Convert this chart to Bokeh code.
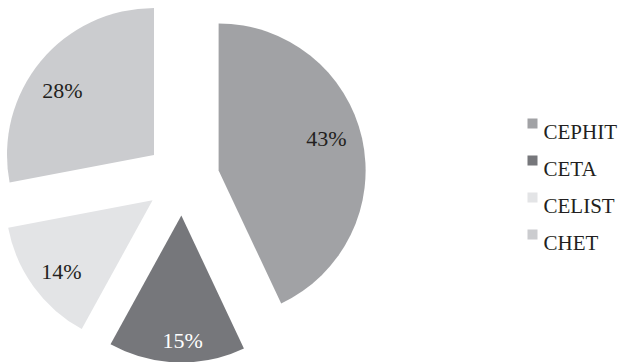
import math
from bokeh.plotting import figure
from bokeh.models import Range1d, ColumnDataSource
from bokeh.core.properties import value
from bokeh.embed import file_html
from bokeh.resources import INLINE

# ---- data ----
categories = ["CEPHIT", "CETA", "CELIST", "CHET"]
shares = [43, 15, 14, 28]
colors = ["#a1a2a5", "#76777b", "#e3e4e6", "#cbcccf"]
label_colors = ["#231f20", "#ffffff", "#231f20", "#231f20"]

# ---- layout / style ----
W, H = 618, 362
CX, CY = 182, 184
R = 147
EXPLODE = 37
LABEL_FRAC = [0.765, 0.85, 0.786, 0.761]   # label distance / radius
LABEL_DEG = [-3.9, -2.4, -2.0, -4.5]       # clockwise shift from bisector
FONT = value("Liberation Serif")

p = figure(width=W, height=H, x_range=Range1d(0, W), y_range=Range1d(0, H),
           output_backend="svg", toolbar_location=None, min_border=0)
p.axis.visible = False
p.grid.visible = False
p.outline_line_color = None
p.background_fill_color = "white"
p.border_fill_color = "white"

total = sum(shares)
cum = 0
xs, ys, starts, ends, lxs, lys, texts = [], [], [], [], [], [], []
for v, f, d in zip(shares, LABEL_FRAC, LABEL_DEG):
    a0 = math.pi / 2 - 2 * math.pi * cum / total
    cum += v
    a1 = math.pi / 2 - 2 * math.pi * cum / total
    mid = (a0 + a1) / 2
    x = CX + EXPLODE * math.cos(mid)
    y = CY + EXPLODE * math.sin(mid)
    xs.append(x); ys.append(y); starts.append(a0); ends.append(a1)
    la = mid - math.radians(d)
    lxs.append(x + f * R * math.cos(la))
    lys.append(y + f * R * math.sin(la))
    texts.append(f"{v}%")

src = ColumnDataSource(dict(x=xs, y=ys, start=starts, end=ends, color=colors,
                            lx=lxs, ly=lys, text=texts, lc=label_colors))
p.wedge(x="x", y="y", radius=R, radius_units="screen", start_angle="start",
        end_angle="end", direction="clock", fill_color="color", line_color=None,
        source=src)
p.text(x="lx", y="ly", text="text", text_align="center", text_baseline="middle",
       text_font=FONT, text_font_size="22px", text_color="lc", source=src)

# ---- legend ----
LEG_X, LEG_Y0, LEG_STEP = 532, 239, 37
leg = ColumnDataSource(dict(
    sx=[LEG_X] * len(categories),
    sy=[LEG_Y0 - i * LEG_STEP for i in range(len(categories))],
    tx=[LEG_X + 11] * len(categories),
    ty=[LEG_Y0 - 8 - i * LEG_STEP for i in range(len(categories))],
    name=categories, color=colors))
p.scatter(x="sx", y="sy", marker="square", size=10, fill_color="color",
          line_color=None, source=leg)
p.text(x="tx", y="ty", text="name", text_align="left", text_baseline="alphabetic",
       text_font=FONT, text_font_size="21px", text_color="#231f20", source=leg)

open("out.html", "w").write(file_html(p, INLINE))
